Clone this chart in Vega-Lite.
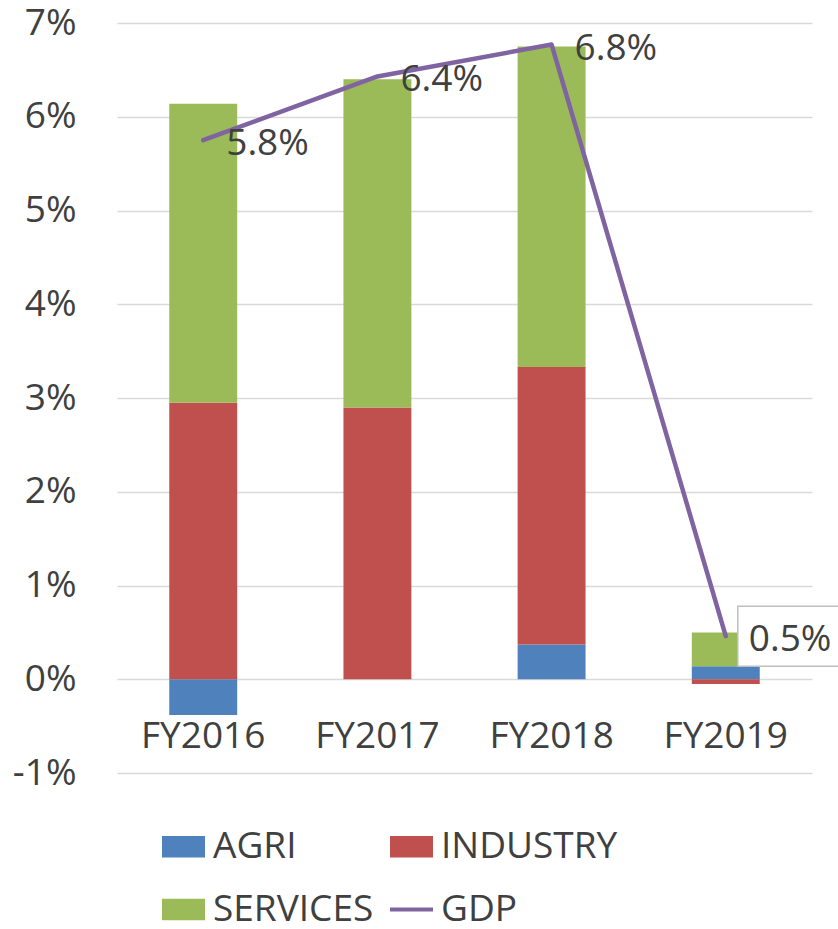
{
  "$schema": "https://vega.github.io/schema/vega-lite/v6.json",
  "width": 695,
  "height": 750,
  "autosize": {"type": "none"},
  "padding": {"left": 117, "top": 23, "right": 26, "bottom": 156},
  "background": "white",
  "config": {
    "font": "Open Sans",
    "view": {"stroke": null},
    "axis": {"labelFont": "Open Sans", "labelColor": "#404040", "labelFontSize": 37}
  },
  "datasets": {
    "sectors": [
      {"year": "FY2016", "sector": "AGRI", "value": -0.38},
      {"year": "FY2016", "sector": "INDUSTRY", "value": 2.95},
      {"year": "FY2016", "sector": "SERVICES", "value": 3.19},
      {"year": "FY2017", "sector": "AGRI", "value": 0.0},
      {"year": "FY2017", "sector": "INDUSTRY", "value": 2.9},
      {"year": "FY2017", "sector": "SERVICES", "value": 3.5},
      {"year": "FY2018", "sector": "AGRI", "value": 0.37},
      {"year": "FY2018", "sector": "INDUSTRY", "value": 2.96},
      {"year": "FY2018", "sector": "SERVICES", "value": 3.42},
      {"year": "FY2019", "sector": "AGRI", "value": 0.14},
      {"year": "FY2019", "sector": "INDUSTRY", "value": -0.05},
      {"year": "FY2019", "sector": "SERVICES", "value": 0.36}
    ],
    "gdp": [
      {"year": "FY2016", "gdp": 5.75, "label": "5.8%"},
      {"year": "FY2017", "gdp": 6.43, "label": "6.4%"},
      {"year": "FY2018", "gdp": 6.77, "label": "6.8%"},
      {"year": "FY2019", "gdp": 0.46, "label": "0.5%"}
    ]
  },
  "layer": [
    {
      "data": {"name": "sectors"},
      "mark": {"type": "bar"},
      "encoding": {
        "x": {
          "field": "year",
          "type": "nominal",
          "scale": {"paddingInner": 0.61, "paddingOuter": 0.3},
          "axis": {
            "title": null,
            "domain": false,
            "ticks": false,
            "grid": false,
            "labelAngle": 0,
            "labelBaseline": "alphabetic",
            "offset": -40,
            "labelPadding": 14
          }
        },
        "y": {
          "field": "value",
          "type": "quantitative",
          "stack": "zero",
          "scale": {"domain": [-1, 7], "nice": false, "zero": false},
          "axis": {
            "title": null,
            "values": [-1, 0, 1, 2, 3, 4, 5, 6, 7],
            "labelExpr": "datum.value + '%'",
            "domain": false,
            "ticks": false,
            "labelPadding": 41,
            "gridColor": "#d9d9d9",
            "gridWidth": 1.5
          }
        },
        "color": {
          "field": "sector",
          "type": "nominal",
          "scale": {
            "domain": ["AGRI", "INDUSTRY", "SERVICES", "GDP"],
            "range": ["#4F81BD", "#C0504D", "#9BBB59", "#8064A2"]
          },
          "legend": {
            "title": null,
            "orient": "none",
            "direction": "horizontal",
            "legendX": 45,
            "legendY": 802,
            "columns": 2,
            "padding": 0,
            "symbolType": "M-1,-0.5H1V0.5H-1Z",
            "symbolSize": 1849,
            "symbolStrokeWidth": 0,
            "symbolOpacity": 1,
            "labelFont": "Open Sans",
            "labelFontSize": 37,
            "labelColor": "#404040",
            "labelOffset": 8,
            "labelLimit": 400,
            "columnPadding": 16,
            "rowPadding": 23,
            "encode": {
              "symbols": {
                "update": {
                  "shape": {"signal": "datum.value === 'GDP' ? 'M-1,-0.09H1V0.09H-1Z' : 'M-1,-0.5H1V0.5H-1Z'"}
                }
              }
            }
          }
        },
        "order": {"field": "sector", "sort": "ascending"}
      }
    },
    {
      "data": {"name": "gdp"},
      "mark": {"type": "line", "color": "#8064A2", "strokeWidth": 4.5, "strokeCap": "round", "strokeJoin": "round"},
      "encoding": {
        "x": {"field": "year", "type": "nominal"},
        "y": {"field": "gdp", "type": "quantitative"}
      }
    },
    {
      "data": {"name": "gdp"},
      "transform": [{"filter": "datum.year === 'FY2019'"}],
      "mark": {
        "type": "point",
        "shape": "M0.4,-1H3.8V1H0.4Z",
        "size": 3600,
        "fill": "white",
        "stroke": "#bfbfbf",
        "strokeWidth": 1.5,
        "fillOpacity": 1,
        "strokeOpacity": 1,
        "opacity": 1
      },
      "encoding": {
        "x": {"field": "year", "type": "nominal"},
        "y": {"field": "gdp", "type": "quantitative"}
      }
    },
    {
      "data": {"name": "gdp"},
      "mark": {
        "type": "text",
        "align": "left",
        "baseline": "middle",
        "dx": 23,
        "dy": 4,
        "fontSize": 37,
        "font": "Open Sans",
        "color": "#404040"
      },
      "encoding": {
        "x": {"field": "year", "type": "nominal"},
        "y": {"field": "gdp", "type": "quantitative"},
        "text": {"field": "label"}
      }
    }
  ]
}
